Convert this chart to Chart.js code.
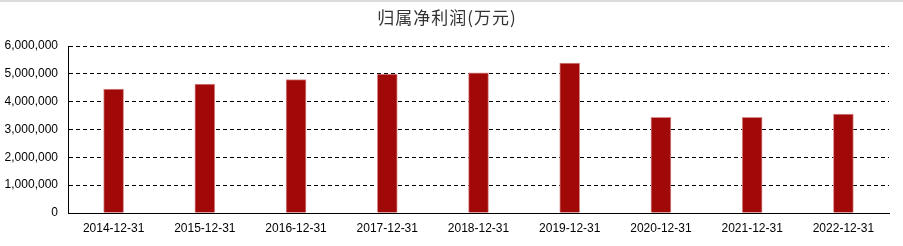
<!DOCTYPE html>
<html>
<head>
<meta charset="utf-8">
<script src="https://cdn.jsdelivr.net/npm/chart.js@4"></script>
<style>
  html, body { margin: 0; padding: 0; background: #fff; }
  #wrap { width: 903px; height: 246px; }
</style>
</head>
<body>
<div id="wrap"><canvas id="profitChart" width="903" height="246"></canvas></div>
<script>
const chartTitle = '归属净利润(万元)';
const categories = ['2014-12-31', '2015-12-31', '2016-12-31', '2017-12-31', '2018-12-31',
  '2019-12-31', '2020-12-31', '2021-12-31', '2022-12-31'];
const profitValues = [4456000, 4635000, 4790000, 4990000, 5040000, 5390000, 3440000, 3440000, 3550000];
const yTicks = [0, 1000000, 2000000, 3000000, 4000000, 5000000, 6000000];

const tickFont = { family: 'Liberation Sans', size: 12 };

const frame = {
  id: 'frame',
  beforeDraw(chart) {
    const ctx = chart.ctx;
    ctx.save();
    ctx.fillStyle = '#fff';
    ctx.fillRect(0, 0, chart.width, chart.height);
    ctx.fillStyle = '#dcdcdc';
    ctx.fillRect(0, 0, chart.width, 2);
    ctx.fillStyle = '#333';
    ctx.font = '17px "Noto Sans CJK SC"';
    ctx.letterSpacing = '1px';
    ctx.textAlign = 'center';
    ctx.textBaseline = 'middle';
    ctx.fillText(chartTitle, 447, 18);
    ctx.restore();
  }
};

document.addEventListener('DOMContentLoaded', function () {
  const context = document.getElementById('profitChart').getContext('2d');
  new Chart(context, {
    type: 'bar',
    data: {
      labels: categories,
      datasets: [
        {
          label: chartTitle,
          data: profitValues,
          backgroundColor: '#a10808',
          borderColor: '#d98c8c',
          borderWidth: 1,
          borderSkipped: 'bottom',
          barThickness: 20,
        },
      ],
    },
    options: {
      responsive: false,
      animation: false,
      layout: { padding: { top: 46, right: 14, left: 0, bottom: 0 } },
      plugins: {
        legend: { display: false },
        title: { display: false },
        tooltip: { enabled: false },
      },
      scales: {
        x: {
          grid: { display: false, drawTicks: false },
          border: { display: true, color: '#000', width: 1 },
          ticks: { color: '#000', font: tickFont, padding: 8, maxRotation: 0, autoSkip: false },
          afterFit: (scale) => { scale.height = 33; },
        },
        y: {
          min: 0,
          max: 6000000,
          afterBuildTicks: (scale) => { scale.ticks = yTicks.map((v) => ({ value: v })); },
          grid: { color: '#000', lineWidth: 1, drawTicks: false },
          border: { display: true, color: '#000', width: 1, dash: [4, 3] },
          ticks: {
            color: '#000',
            font: tickFont,
            padding: 10,
            callback: (v) => v.toLocaleString('en-US'),
          },
          afterFit: (scale) => { scale.width = 68; },
        },
      },
    },
    plugins: [frame],
  });
});
</script>
</body>
</html>
